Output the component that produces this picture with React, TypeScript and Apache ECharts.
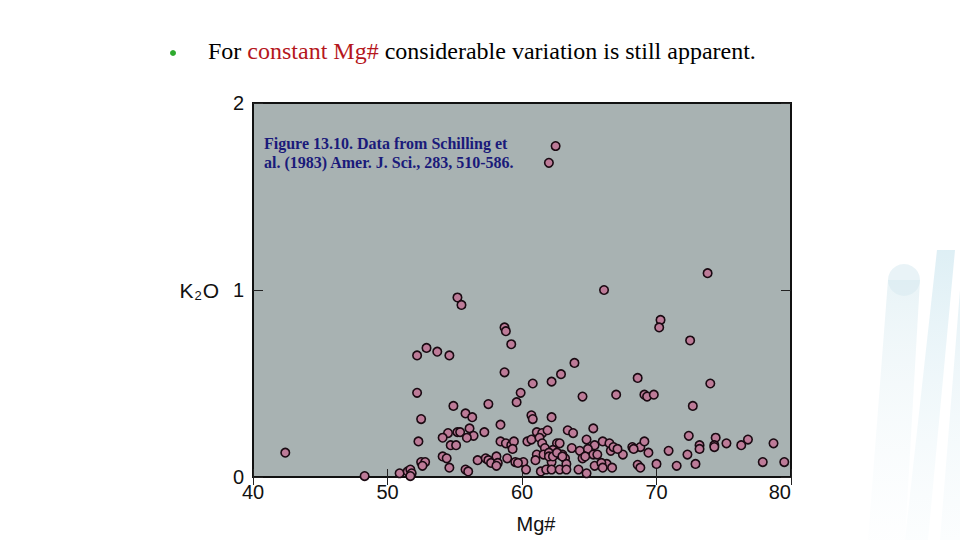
import React, { useEffect, useRef } from "react";
import * as echarts from "echarts";

// Mg# (x) and K2O wt% (y)
const mgNumber: number[] = [
  62.5, 62.0, 73.8, 66.1, 55.2, 55.5, 58.7, 58.8, 59.2, 70.3,
  70.2, 72.5, 52.2, 52.9, 53.7, 54.6, 63.9, 58.7, 62.9, 62.2,
  60.8, 59.9, 52.2, 64.5, 67.0, 68.6, 69.1, 69.3, 69.8, 74.0,
  59.6, 54.9, 57.5, 72.7, 52.5, 55.8, 56.3, 60.7, 60.8, 62.2,
  58.4, 56.1, 55.2, 55.4, 57.2, 54.5, 54.1, 56.4, 55.9, 52.3,
  54.7, 55.1, 58.4, 58.8, 59.2, 59.4, 59.3, 61.1, 61.5, 61.9,
  60.4, 60.7, 61.3, 61.5, 63.4, 63.8, 63.7, 65.3, 62.6, 62.8,
  64.8, 66.0, 65.4, 66.5, 68.2, 68.8, 69.1, 61.7, 62.3, 64.3,
  64.9, 66.6, 67.5, 61.1, 61.6, 62.0, 62.8, 63.0, 65.3, 65.6,
  61.0, 62.2, 63.2, 63.3, 64.5, 64.7, 66.3, 65.4, 65.9, 66.0,
  66.7, 60.1, 60.3, 61.4, 61.8, 62.2, 62.8, 63.3, 64.2, 64.8,
  68.6, 68.8, 54.1, 54.4, 52.5, 52.8, 52.6, 54.6, 55.8, 56.7,
  57.3, 57.5, 57.7, 58.1, 58.2, 58.1, 58.9, 59.5, 59.7, 62.0,
  62.3, 62.6, 63.0, 50.9, 51.5, 51.7, 51.8, 48.3, 42.4, 70.9,
  72.4, 73.2, 73.2, 72.3, 74.4, 74.3, 74.3, 75.2, 76.3, 76.8,
  78.7, 77.9, 79.5, 70.0, 71.5, 72.9, 69.4, 66.8, 67.1, 68.3,
  56.0, 51.7
];
const k2oWt: number[] = [
  1.77, 1.68, 1.09, 1.0, 0.96, 0.92, 0.8, 0.78, 0.71, 0.84,
  0.8, 0.73, 0.65, 0.69, 0.67, 0.65, 0.61, 0.56, 0.55, 0.51,
  0.5, 0.45, 0.45, 0.43, 0.44, 0.53, 0.44, 0.43, 0.44, 0.5,
  0.4, 0.38, 0.39, 0.38, 0.31, 0.34, 0.32, 0.33, 0.31, 0.32,
  0.28, 0.26, 0.24, 0.24, 0.24, 0.235, 0.21, 0.22, 0.21, 0.19,
  0.17, 0.17, 0.19, 0.18, 0.17, 0.19, 0.15, 0.24, 0.235, 0.25,
  0.19, 0.2, 0.21, 0.18, 0.25, 0.235, 0.155, 0.26, 0.18, 0.18,
  0.2, 0.19, 0.17, 0.18, 0.16, 0.16, 0.19, 0.155, 0.145, 0.14,
  0.15, 0.14, 0.12, 0.12, 0.12, 0.13, 0.12, 0.12, 0.12, 0.12,
  0.09, 0.08, 0.1, 0.07, 0.1, 0.11, 0.07, 0.06, 0.075, 0.05,
  0.05, 0.08, 0.04, 0.03, 0.04, 0.04, 0.04, 0.04, 0.04, 0.02,
  0.065, 0.05, 0.11, 0.1, 0.08, 0.08, 0.06, 0.05, 0.04, 0.09,
  0.1, 0.09, 0.075, 0.11, 0.075, 0.06, 0.1, 0.08, 0.075, 0.11,
  0.11, 0.13, 0.11, 0.02, 0.03, 0.04, 0.02, 0.005, 0.13, 0.14,
  0.22, 0.17, 0.15, 0.12, 0.21, 0.17, 0.16, 0.18, 0.17, 0.2,
  0.18, 0.08, 0.08, 0.07, 0.06, 0.07, 0.13, 0.16, 0.15, 0.15,
  0.03, 0.005
];

const xTicks = { min: 40, max: 80, interval: 10 };
const yTicks = { min: 0, max: 2, interval: 1 };

const headingParts: string[] = ["For ", "constant Mg#", " considerable variation is still apparent."];
const captionLines: string[] = [
  "Figure 13.10. Data from Schilling et",
  "al. (1983) Amer. J. Sci., 283, 510-586.",
];

export default function App() {
  const ref = useRef<HTMLDivElement>(null);

  useEffect(() => {
    document.body.style.margin = "0";
    document.body.style.background = "#ffffff";
    if (!ref.current) return;
    const chart = echarts.init(ref.current, undefined, { renderer: "svg" });

    const points = mgNumber.map((x, i) => [x, k2oWt[i]]);
    const sans = "Liberation Sans, Arial, sans-serif";
    const serif = "Liberation Serif, Times New Roman, serif";
    const tickStyle = { color: "#222", width: 1 };

    chart.setOption({
      animation: false,
      backgroundColor: "#ffffff",
      grid: {
        left: 253,
        right: 169,
        top: 103,
        bottom: 63,
        show: true,
        backgroundColor: "#a8b2b2",
        borderColor: "#111",
        borderWidth: 2,
      },
      xAxis: [
        {
          type: "value",
          position: "bottom",
          ...xTicks,
          name: "Mg#",
          nameLocation: "middle",
          nameGap: 37,
          nameTextStyle: { fontFamily: sans, fontSize: 20, color: "#111", padding: [0, 0, 0, 28] },
          axisLine: { show: false },
          axisTick: { show: true, inside: true, length: 8, lineStyle: tickStyle },
          splitLine: { show: false },
          axisLabel: {
            fontFamily: sans,
            fontSize: 20,
            color: "#111",
            margin: 5,
            alignMaxLabel: "right",
          },
        },
        {
          type: "value",
          position: "top",
          ...xTicks,
          axisLine: { show: false },
          axisTick: { show: true, inside: true, length: 8, lineStyle: tickStyle },
          splitLine: { show: false },
          axisLabel: { show: false },
        },
      ],
      yAxis: [
        {
          type: "value",
          position: "left",
          ...yTicks,
          name: "{a|K}{b|2}{a|O}",
          nameLocation: "middle",
          nameRotate: 0,
          nameGap: 34,
          nameTextStyle: {
            rich: {
              a: { fontFamily: sans, fontSize: 21, color: "#111", lineHeight: 24 },
              b: { fontFamily: sans, fontSize: 13, color: "#111", padding: [10, 1, 0, 1], lineHeight: 13 },
            },
          },
          axisLine: { show: false },
          axisTick: { show: true, inside: true, length: 10, lineStyle: tickStyle },
          splitLine: { show: false },
          axisLabel: { fontFamily: sans, fontSize: 20, color: "#111", margin: 9 },
        },
        {
          type: "value",
          position: "right",
          ...yTicks,
          axisLine: { show: false },
          axisTick: { show: true, inside: true, length: 10, lineStyle: tickStyle },
          splitLine: { show: false },
          axisLabel: { show: false },
        },
      ],
      series: [
        {
          type: "scatter",
          xAxisIndex: 0,
          yAxisIndex: 0,
          data: points,
          symbol: "circle",
          symbolSize: 8.5,
          itemStyle: { color: "#bd7b98", borderColor: "#1a0a12", borderWidth: 1.6, opacity: 1 },
          silent: true,
        },
      ],
      graphic: [
        // faint decorative stripes on the right
        {
          type: "polygon",
          silent: true,
          z: -10,
          shape: { points: [[888, 280], [920, 280], [905, 540], [868, 540]] },
          style: {
            fill: new echarts.graphic.LinearGradient(0, 0, 0, 1, [
              { offset: 0, color: "rgba(215,234,240,0.55)" },
              { offset: 1, color: "rgba(240,247,250,0.1)" },
            ]),
          },
        },
        {
          type: "circle",
          silent: true,
          z: -10,
          shape: { cx: 904, cy: 280, r: 16 },
          style: { fill: "rgba(215,234,240,0.55)" },
        },
        {
          type: "polygon",
          silent: true,
          z: -10,
          shape: { points: [[937, 250], [955, 250], [928, 540], [905, 540]] },
          style: {
            fill: new echarts.graphic.LinearGradient(0, 0, 0, 1, [
              { offset: 0, color: "rgba(200,228,238,0.6)" },
              { offset: 1, color: "rgba(232,244,248,0.15)" },
            ]),
          },
        },
        {
          type: "polygon",
          silent: true,
          z: -10,
          shape: { points: [[960, 290], [960, 540], [940, 540]] },
          style: {
            fill: new echarts.graphic.LinearGradient(0, 0, 0, 1, [
              { offset: 0, color: "rgba(210,232,240,0.55)" },
              { offset: 1, color: "rgba(235,245,249,0.2)" },
            ]),
          },
        },
        // bullet + heading
        {
          type: "circle",
          shape: { cx: 173, cy: 53, r: 3 },
          style: { fill: "#2eaa2e" },
        },
        {
          type: "text",
          left: 208,
          top: 39,
          style: {
            text: `{a|${headingParts[0]}}{b|${headingParts[1]}}{a|${headingParts[2]}}`,
            rich: {
              a: { fontFamily: serif, fontSize: 24, fill: "#000" },
              b: { fontFamily: serif, fontSize: 24, fill: "#b5161c" },
            },
          },
        },
        // caption inside plot
        {
          type: "text",
          left: 264,
          top: 134,
          z: 10,
          style: {
            text: captionLines.join("\n"),
            fontFamily: serif,
            fontWeight: "bold",
            fontSize: 16,
            lineHeight: 19,
            fill: "#1a1a7a",
          },
        },
      ],
    });

    return () => chart.dispose();
  }, []);

  return <div ref={ref} style={{ width: 960, height: 540 }} />;
}
